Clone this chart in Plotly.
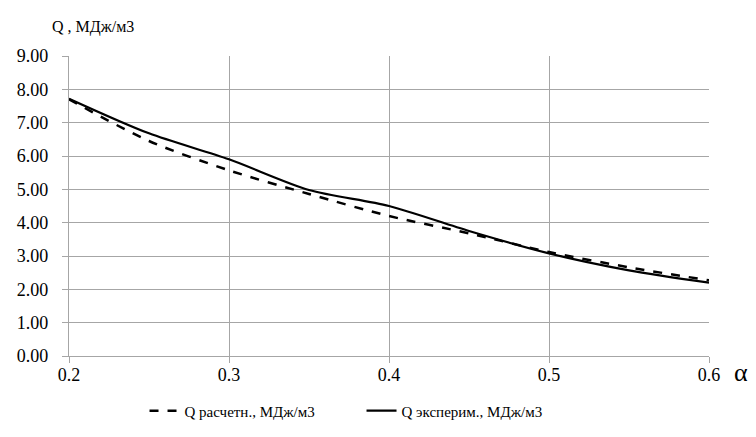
import plotly.graph_objects as go

alpha = [0.2, 0.25, 0.3, 0.35, 0.4, 0.45, 0.5, 0.55, 0.6]
q_calc = [7.70, 6.45, 5.57, 4.86, 4.20, 3.68, 3.12, 2.66, 2.27]
q_exp = [7.72, 6.68, 5.90, 4.98, 4.50, 3.75, 3.08, 2.57, 2.20]
name_calc = "Q расчетн., МДж/м3"
name_exp = "Q эксперим., МДж/м3"
y_title = "Q , МДж/м3"
x_title = "α"

FONT = "Liberation Serif, Times New Roman, serif"
GRID = "#a6a6a6"

fig = go.Figure()
fig.add_trace(go.Scatter(x=alpha, y=q_calc, name=name_calc, mode="lines",
                         line=dict(color="black", width=2.5, dash="dash", shape="spline", smoothing=0.8)))
fig.add_trace(go.Scatter(x=alpha, y=q_exp, name=name_exp, mode="lines",
                         line=dict(color="black", width=2.2, shape="spline", smoothing=0.8)))

fig.update_layout(
    width=756, height=437,
    margin=dict(l=61, r=55, t=48, b=89, autoexpand=False),
    paper_bgcolor="white", plot_bgcolor="white",
    font=dict(family=FONT, size=18, color="black"),
    showlegend=True,
    legend=dict(orientation="h", x=0.118, xanchor="left", y=-0.183, yanchor="middle",
                font=dict(family=FONT, size=15, color="black"), traceorder="normal",
                entrywidth=172, itemwidth=30),
    xaxis=dict(range=[0.2, 0.6], tickvals=[0.2, 0.3, 0.4, 0.5, 0.6], tickformat=".1f",
               showgrid=True, gridcolor=GRID, gridwidth=1.3,
               showline=True, linecolor=GRID, linewidth=1.3, automargin=False,
               ticks="outside", ticklen=6, tickcolor=GRID, zeroline=False,
               ticklabelstandoff=-4,
               tickfont=dict(family=FONT, size=18)),
    yaxis=dict(range=[0, 9], dtick=1, tickformat=".2f",
               showgrid=True, gridcolor=GRID, gridwidth=1.3,
               showline=True, linecolor=GRID, linewidth=1.3, automargin=False,
               ticks="outside", ticklen=6, tickcolor=GRID, zeroline=False,
               ticklabelstandoff=10,
               tickfont=dict(family=FONT, size=18)),
    annotations=[
        dict(text=y_title, xref="paper", yref="paper", x=-0.03, y=1.06,
             xanchor="left", yanchor="bottom", showarrow=False,
             font=dict(family=FONT, size=16)),
        dict(text=x_title, xref="paper", yref="paper", x=1.036, y=-0.055,
             xanchor="left", yanchor="middle", showarrow=False,
             font=dict(family=FONT, size=26)),
    ],
)

fig.write_html("out.html")
